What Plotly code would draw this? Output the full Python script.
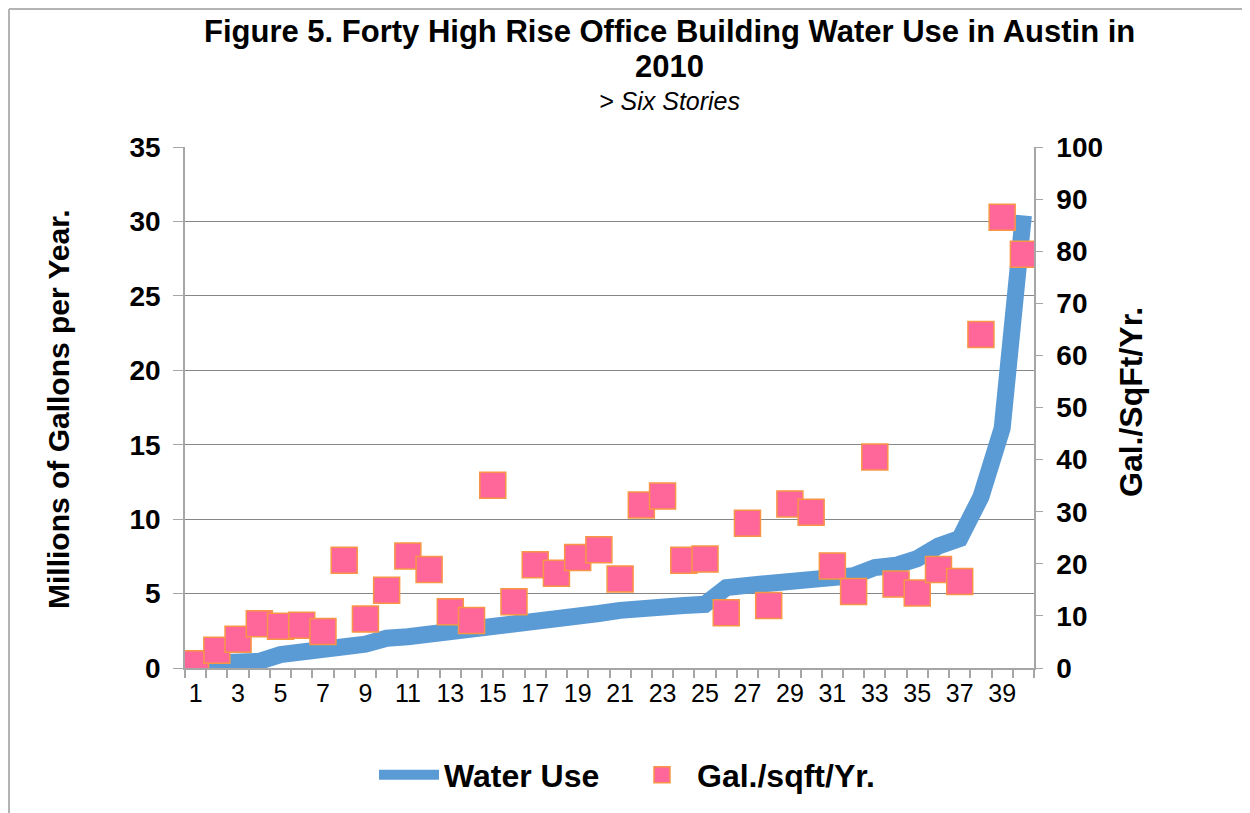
import plotly.graph_objects as go

buildings = list(range(1, 41))

water_use = [0.3, 0.4, 0.42, 0.45, 0.9, 1.0, 1.2, 1.43, 1.6, 2.0, 2.1, 2.25, 2.37, 2.58, 2.75, 2.8,
             3.0, 3.15, 3.23, 3.66, 3.87, 3.9, 4.16, 4.2, 4.28, 5.4, 5.55, 5.65, 5.75, 5.84,
             5.9, 6.2, 6.75, 6.9, 7.35, 8.2, 8.7, 11.5, 16.1, 30.4]

gal_sqft = [0.8, 3.4, 5.5, 8.5, 8.0, 8.2, 7.0, 20.7, 9.4, 14.9, 21.5, 18.9, 10.8, 9.1, 35.1, 12.7,
            19.8, 18.2, 21.2, 22.7, 17.1, 31.3, 33.0, 20.7, 20.9, 10.6, 27.8, 12.0, 31.5, 29.9,
            19.6, 14.7, 40.5, 16.1, 14.4, 18.9, 16.6, 64.0, 86.5, 79.4]

x_tick_labels = [str(i) for i in range(1, 41, 2)]
x_tick_vals = list(range(1, 41, 2))

FONT = "Liberation Sans, Arial, sans-serif"
OFF = 8  # page body margin
W, H = 1250, 813
L, T = 185 - OFF, 147 - OFF
pw, ph = 849, 521
R = W - L - pw
B = H - T - ph

def px(xs):
    return (xs - OFF - L) / pw

def py(ys):
    return (T + ph - (ys - OFF)) / ph

fig = go.Figure()

fig.add_trace(go.Scatter(
    x=buildings, y=water_use, name="Water Use", mode="lines",
    line=dict(color="#5B9BD5", width=17), yaxis="y",
))
fig.add_trace(go.Scatter(
    x=buildings, y=gal_sqft, name="Gal./sqft/Yr.", mode="markers",
    marker=dict(symbol="square", size=26, color="#FF6699",
                line=dict(color="#F79646", width=1.5)),
    yaxis="y2",
))

fig.update_layout(
    width=W, height=H,
    margin=dict(l=L, r=R, t=T, b=B, autoexpand=False),
    paper_bgcolor="white", plot_bgcolor="white",
    font=dict(family=FONT, color="black"),
    showlegend=True,
    legend=dict(orientation="h", x=px(374), y=py(775), xanchor="left", yanchor="middle",
                font=dict(size=32, family=FONT, weight="bold"), itemwidth=60,
                entrywidthmode="pixels", entrywidth=178),
    xaxis=dict(range=[0.5, 40.5], tickmode="array", tickvals=x_tick_vals,
               ticktext=x_tick_labels, ticks="", showgrid=False, zeroline=False,
               showline=True, linecolor="#A6A6A6", linewidth=1.5,
               tickfont=dict(size=25, family=FONT), ticklabelstandoff=2,
               minor=dict(tickmode="linear", tick0=0.5, dtick=1, ticks="outside",
                          ticklen=8, tickcolor="#A6A6A6", tickwidth=1.5, showgrid=False)),
    yaxis=dict(range=[0, 35], dtick=5, tick0=0, showgrid=True, gridcolor="#868686",
               gridwidth=1.3, zeroline=False, showline=True, linecolor="#A6A6A6",
               linewidth=1.5, ticks="outside", ticklen=10, tickcolor="#A6A6A6",
               tickfont=dict(size=28, family=FONT, weight="bold"), ticklabelstandoff=7),
    yaxis2=dict(range=[0, 100], dtick=10, tick0=0, overlaying="y", side="right",
                showgrid=False, zeroline=False, showline=True, linecolor="#A6A6A6",
                linewidth=1.5, ticks="outside", ticklen=7, tickcolor="#A6A6A6",
                tickfont=dict(size=28, family=FONT, weight="bold"), ticklabelstandoff=8),
)

annotations = [
    dict(text="Figure 5. Forty High Rise Office Building Water Use in Austin in",
         x=px(669), y=py(31), font=dict(size=31, weight="bold")),
    dict(text="2010", x=px(669), y=py(67), font=dict(size=31, weight="bold")),
    dict(text="<i>&gt; Six Stories</i>", x=px(669), y=py(101), font=dict(size=25)),
    dict(text="Millions of Gallons per Year.", x=px(58), y=py(409), textangle=-90,
         font=dict(size=30, weight="bold")),
    dict(text="Gal./SqFt/Yr.", x=px(1131), y=py(402), textangle=-90,
         font=dict(size=32, weight="bold")),
]
for a in annotations:
    a.update(xref="paper", yref="paper", showarrow=False, xanchor="center", yanchor="middle")
    a["font"].update(family=FONT, color="black")
fig.update_layout(annotations=annotations)

fig.add_shape(type="line", xref="paper", yref="paper", x0=px(9), x1=px(1270),
              y0=py(9), y1=py(9), line=dict(color="#B3B3B3", width=2))
fig.add_shape(type="line", xref="paper", yref="paper", x0=px(9), x1=px(9),
              y0=py(9), y1=py(830), line=dict(color="#B3B3B3", width=2))

fig.write_html("out.html")
